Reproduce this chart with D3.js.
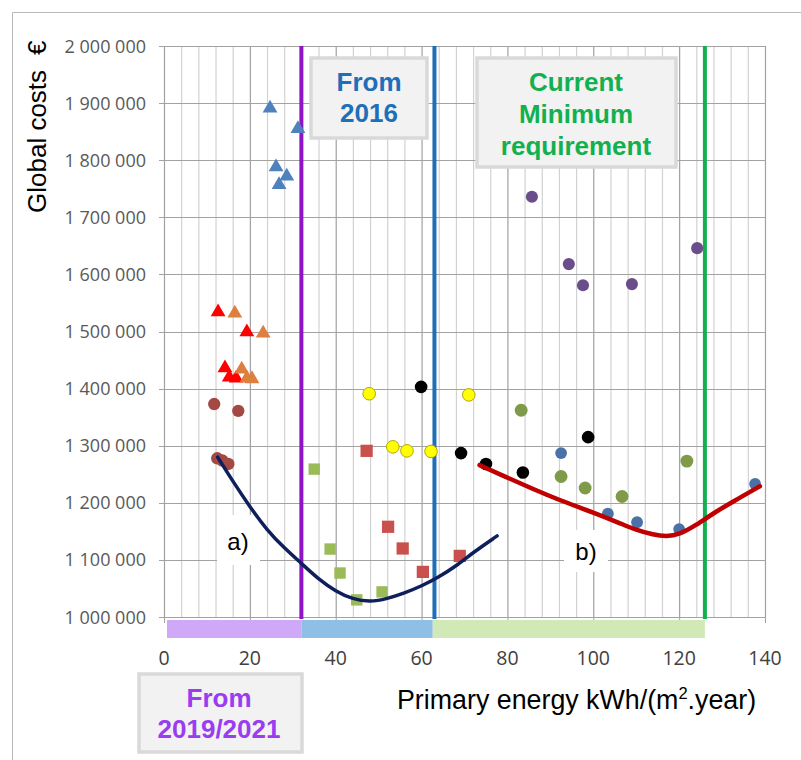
<!DOCTYPE html>
<html><head><meta charset="utf-8">
<script src="https://cdn.jsdelivr.net/npm/d3@7"></script>
<style>body{margin:0;background:#fff}svg{display:block}</style>
</head><body>
<svg id="chart" width="801" height="760"></svg>
<script>
// ---------- DATA ----------
const xTicks = [0, 20, 40, 60, 80, 100, 120, 140];
const yTicks = [1000000, 1100000, 1200000, 1300000, 1400000, 1500000, 1600000, 1700000, 1800000, 1900000, 2000000];
const xLabel = "Primary energy kWh/(m";
const yLabel = "Global costs";

// requirement limits (kWh/(m².year))
const limits = [32, 63, 126];
const bands = [[0.7, 32], [32, 62.6], [62.6, 126]];

// scatter series [primary energy, global cost]
const blueTriangles = [[24.7,1891000],[31.2,1855000],[26.1,1788000],[28.6,1772000],[26.8,1757000]];
const redTriangles = [[12.6,1534000],[19.3,1499000],[14.2,1436000],[15.2,1420000],[16.8,1418000]];
const orangeTriangles = [[16.5,1532000],[23.1,1497000],[18.1,1434000],[19.3,1418000],[20.5,1417000]];
const brownCircles = [[11.7,1373000],[17.3,1361000],[12.4,1278000],[13.6,1274000],[15.0,1268000]];
const greenSquares = [[35.0,1259000],[38.7,1119000],[41.0,1077000],[44.9,1030000],[50.8,1044000]];
const redSquares = [[47.2,1291000],[52.2,1158000],[55.6,1120000],[60.3,1079000],[68.9,1107000]];
const yellowCircles = [[47.8,1391000],[53.3,1298000],[56.6,1291000],[62.2,1290000],[71.0,1389000]];
const blackCircles = [[59.9,1403000],[69.2,1287000],[75.0,1268000],[83.6,1253000],[98.8,1315000]];
const oliveCircles = [[83.2,1362000],[92.5,1246000],[98.1,1226000],[106.7,1211000],[121.8,1273000]];
const blueCircles = [[92.5,1287000],[103.4,1181000],[110.2,1166000],[120.0,1154000],[137.7,1233000]];
const purpleCircles = [[85.7,1736000],[94.3,1618000],[97.6,1581000],[109.0,1583000],[124.2,1646000]];

// fitted curves
const curveA = [[12.5,1280000],[16,1238000],[20,1193000],[24,1152000],[28,1121000],[32,1094000],[36,1066000],[40,1045000],[44,1031000],[48,1026000],[52,1032000],[56,1042000],[60,1054000],[64,1070000],[68,1089000],[72,1113000],[77.6,1142000]];
const curveB = [[73.5,1266000],[80,1244000],[86,1224000],[92,1205000],[100,1183000],[106,1165000],[110,1152000],[114,1144000],[117,1141000],[120,1144000],[124,1161000],[128,1182000],[133,1204000],[138.8,1229000]];

const boxFrom2016 = ["From", "2016"];
const boxCurrent = ["Current", "Minimum", "requirement"];
const boxFrom2019 = ["From", "2019/2021"];
const curveLabels = ["a)", "b)"];

// ---------- DRAW ----------
const svg = d3.select("#chart");
const x = d3.scaleLinear().domain([0, 140]).range([164, 765]);
const y = d3.scaleLinear().domain([1000000, 2000000]).range([617, 46]);
const fmt = d3.formatLocale({decimal: ",", thousands: " ", grouping: [3], currency: ["", ""]}).format(",d");

// frame
svg.append("path").attr("d", "M12.5,760V12.5H801").attr("fill", "none").attr("stroke", "#b8b8b8").attr("stroke-width", 1);

// vertical grid (every 4 units)
const vgrid = d3.range(0, 141, 4);
svg.append("g").selectAll("line").data(vgrid).join("line")
  .attr("x1", d => x(d) + 0.5).attr("x2", d => x(d) + 0.5)
  .attr("y1", y(2000000)).attr("y2", y(1000000))
  .attr("stroke", d => d % 20 === 0 ? "#a0a0a0" : "#d2d2d2").attr("stroke-width", 1.2);
svg.append("g").selectAll("line").data(xTicks).join("line")
  .attr("x1", d => x(d) + 0.5).attr("x2", d => x(d) + 0.5)
  .attr("y1", y(1000000)).attr("y2", y(1000000) + 6)
  .attr("stroke", "#a0a0a0");
// horizontal grid
svg.append("g").selectAll("line").data(yTicks).join("line")
  .attr("x1", 159).attr("x2", x(140) + 0.5)
  .attr("y1", d => Math.round(y(d)) + 0.5).attr("y2", d => Math.round(y(d)) + 0.5)
  .attr("stroke", "#a3a3a3").attr("stroke-width", 1.2);

// y tick labels
svg.append("g").selectAll("text").data(yTicks).join("text")
  .attr("x", 146).attr("y", d => y(d) + 6.5)
  .attr("text-anchor", "end").attr("font-family", "'Open Sans', sans-serif").attr("font-size", 18)
  .attr("fill", "#595959").text(d => fmt(d));

// x tick labels
svg.append("g").selectAll("text").data(xTicks).join("text")
  .attr("x", d => x(d)).attr("y", 665)
  .attr("text-anchor", "middle").attr("font-family", "'Open Sans', sans-serif").attr("font-size", 19.5)
  .attr("fill", "#404040").text(d => d);

// bands
const bandColors = ["#cfa8f7", "#8fbfe4", "#d0e9b6"];
svg.append("g").selectAll("rect").data(bands).join("rect")
  .attr("x", d => x(d[0])).attr("width", d => x(d[1]) - x(d[0]))
  .attr("y", 620).attr("height", 18)
  .attr("fill", (d, i) => bandColors[i]);

// label backgrounds (white boxes over grid)
svg.append("rect").attr("x", 217).attr("y", 515).attr("width", 43).attr("height", 50).attr("fill", "#fff");
svg.append("rect").attr("x", 564).attr("y", 530).attr("width", 44).attr("height", 42).attr("fill", "#fff");

// limit lines
const limitColors = ["#8e14c6", "#1f6fb8", "#12b04f"];
svg.append("g").selectAll("line").data(limits).join("line")
  .attr("x1", d => x(d)).attr("x2", d => x(d))
  .attr("y1", y(2000000)).attr("y2", y(1000000) + 2)
  .attr("stroke", (d, i) => limitColors[i]).attr("stroke-width", 4);

// curves
const line = d3.line().x(d => x(d[0])).y(d => y(d[1])).curve(d3.curveBasis);

// markers
function markers(data, type, color, size, stroke) {
  svg.append("g").selectAll("path").data(data).join("path")
    .attr("transform", d => `translate(${x(d[0])},${y(d[1])})`)
    .attr("d", d3.symbol().type(type).size(size))
    .attr("fill", color)
    .attr("stroke", stroke || "none").attr("stroke-width", 1);
}
markers(blueTriangles, d3.symbolTriangle, "#4f81bd", 95);
markers(redTriangles, d3.symbolTriangle, "#ff0000", 95);
markers(orangeTriangles, d3.symbolTriangle, "#dd7f3e", 95);
markers(brownCircles, d3.symbolCircle, "#a34843", 120);
markers(greenSquares, d3.symbolSquare, "#9bbb59", 130);
markers(redSquares, d3.symbolSquare, "#c9504c", 150);
markers(yellowCircles, d3.symbolCircle, "#ffff00", 125, "#b8a400");
markers(blackCircles, d3.symbolCircle, "#000000", 125);
markers(oliveCircles, d3.symbolCircle, "#7f9a48", 130);
markers(blueCircles, d3.symbolCircle, "#4a72a8", 110);
markers(purpleCircles, d3.symbolCircle, "#6a4e8c", 115);

svg.append("path").datum(curveA).attr("d", line).attr("fill", "none").attr("stroke", "#0f1f5c").attr("stroke-width", 3.5).attr("stroke-linecap", "round");
svg.append("path").datum(curveB).attr("d", line).attr("fill", "none").attr("stroke", "#c00000").attr("stroke-width", 4.5).attr("stroke-linecap", "round");

// curve labels
svg.append("text").attr("x", 238).attr("y", 550).attr("text-anchor", "middle")
  .attr("font-family", "'Liberation Sans', Arial, sans-serif").attr("font-size", 24).attr("fill", "#000").text(curveLabels[0]);
svg.append("text").attr("x", 586).attr("y", 560).attr("text-anchor", "middle")
  .attr("font-family", "'Liberation Sans', Arial, sans-serif").attr("font-size", 24).attr("fill", "#000").text(curveLabels[1]);

// annotation boxes
function box(x0, y0, w, h, lines, color, baselines, cx) {
  svg.append("rect").attr("x", x0).attr("y", y0).attr("width", w).attr("height", h)
    .attr("fill", "#f2f2f2").attr("stroke", "#d9d9d9").attr("stroke-width", 3.5);
  svg.append("g").selectAll("text").data(lines).join("text")
    .attr("x", cx).attr("y", (d, i) => baselines[i]).attr("text-anchor", "middle")
    .attr("font-family", "'Liberation Sans', Arial, sans-serif").attr("font-weight", "bold")
    .attr("font-size", 26).attr("fill", color).text(d => d);
}
box(311, 58, 116, 80, boxFrom2016, "#1f6fb8", [91, 122], 369);
box(477, 58, 199, 109, boxCurrent, "#12b04f", [91, 123, 155], 576);
box(139, 674, 163, 78, boxFrom2019, "#9a3cf0", [707, 738], 219);

// axis titles
const xt = svg.append("text").attr("x", 397).attr("y", 709)
  .attr("font-family", "'Liberation Sans', Arial, sans-serif").attr("font-size", 26.8).attr("fill", "#000");
xt.append("tspan").text(xLabel);
xt.append("tspan").attr("dy", -10).attr("font-size", 16.5).text("2");
xt.append("tspan").attr("dy", 10).text(".year)");

svg.append("text").attr("transform", "translate(46,213) rotate(-90)")
  .attr("font-family", "'Liberation Sans', Arial, sans-serif").attr("font-size", 26).attr("fill", "#000").text(yLabel);
svg.append("text").attr("transform", "translate(46,55) rotate(-90)")
  .attr("font-family", "'Liberation Sans', Arial, sans-serif").attr("font-size", 26).attr("fill", "#000").text("€");
</script>
</body></html>
